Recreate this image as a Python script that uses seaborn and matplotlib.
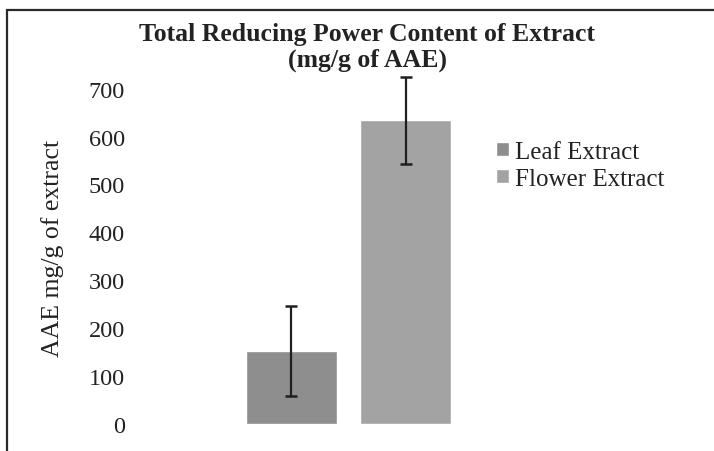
import matplotlib
matplotlib.use("Agg")
import matplotlib.pyplot as plt
import seaborn as sns
import pandas as pd
from matplotlib.patches import Rectangle

# ---- data ----
series = ["Leaf Extract", "Flower Extract"]
values = [152, 634]
errors = [94, 91]
yticks = [0, 100, 200, 300, 400, 500, 600, 700]
title_line1 = "Total Reducing Power Content of Extract"
title_line2 = "(mg/g of AAE)"
ylabel = "AAE mg/g of extract"
colors = ["#8e8e8e", "#a3a3a3"]

sns.set_style("white")
plt.rcParams["font.family"] = ["Liberation Serif", "DejaVu Serif"]

df = pd.DataFrame({"Extract": series, "AAE": values})

fig = plt.figure(figsize=(7.14, 4.52), dpi=100)
W, H = 714, 452
ax_left, ax_w = 140, 350
ax = fig.add_axes([ax_left / W, 27 / H, ax_w / W, 0.8054])

sns.barplot(data=df, x="Extract", y="AAE", hue="Extract", palette=colors,
            width=0.8, errorbar=None, legend=True, ax=ax, saturation=1)

# error bars at the bar centres produced by seaborn
centers = [p.get_x() + p.get_width() / 2 for p in ax.patches[:len(series)]]
ax.errorbar(centers, values, yerr=errors, fmt="none", ecolor="#1f1f1f",
            elinewidth=1.6, capsize=4, capthick=1.8, clip_on=False, zorder=5)

px_per_unit = 114.1
lo = (ax_left - 291.4) / px_per_unit
hi = (ax_left + ax_w - 291.4) / px_per_unit
ax.set_xlim(lo, hi)
ax.set_ylim(0, 760)
ax.set_yticks(yticks)
ax.set_yticklabels([str(t) for t in yticks], fontsize=17.5, color="#222222")
ax.tick_params(axis="y", length=0, pad=11)
ax.xaxis.set_visible(False)
for s in ax.spines.values():
    s.set_visible(False)
ax.set_ylabel(ylabel, fontsize=18.5, color="#222222")
ax.yaxis.set_label_coords(-0.217, 0.486)

fig.text(367 / W, 1 - 40.7 / H, title_line1, ha="center", va="baseline",
         fontsize=18.5, fontweight="bold", color="#222222")
fig.text(368 / W, 1 - 67 / H, title_line2, ha="center", va="baseline",
         fontsize=18.5, fontweight="bold", color="#222222")

leg = ax.legend(loc="center left", bbox_to_anchor=(496 / W, 1 - 166.4 / H),
                bbox_transform=fig.transFigure, frameon=False, fontsize=18,
                handlelength=0.52, handleheight=0.52, handletextpad=0.25,
                labelspacing=0.2, borderpad=0, borderaxespad=0)
for t in leg.get_texts():
    t.set_color("#222222")

# outer chart border (extends beyond right/bottom edges as in reference)
fig.patches.append(Rectangle((7 / W, -0.1), 1.2, 1 - 11 / H + 0.1,
                             transform=fig.transFigure, fill=False,
                             edgecolor="#2a2a2a", linewidth=1.6))

fig.savefig("out.png", dpi=100)
